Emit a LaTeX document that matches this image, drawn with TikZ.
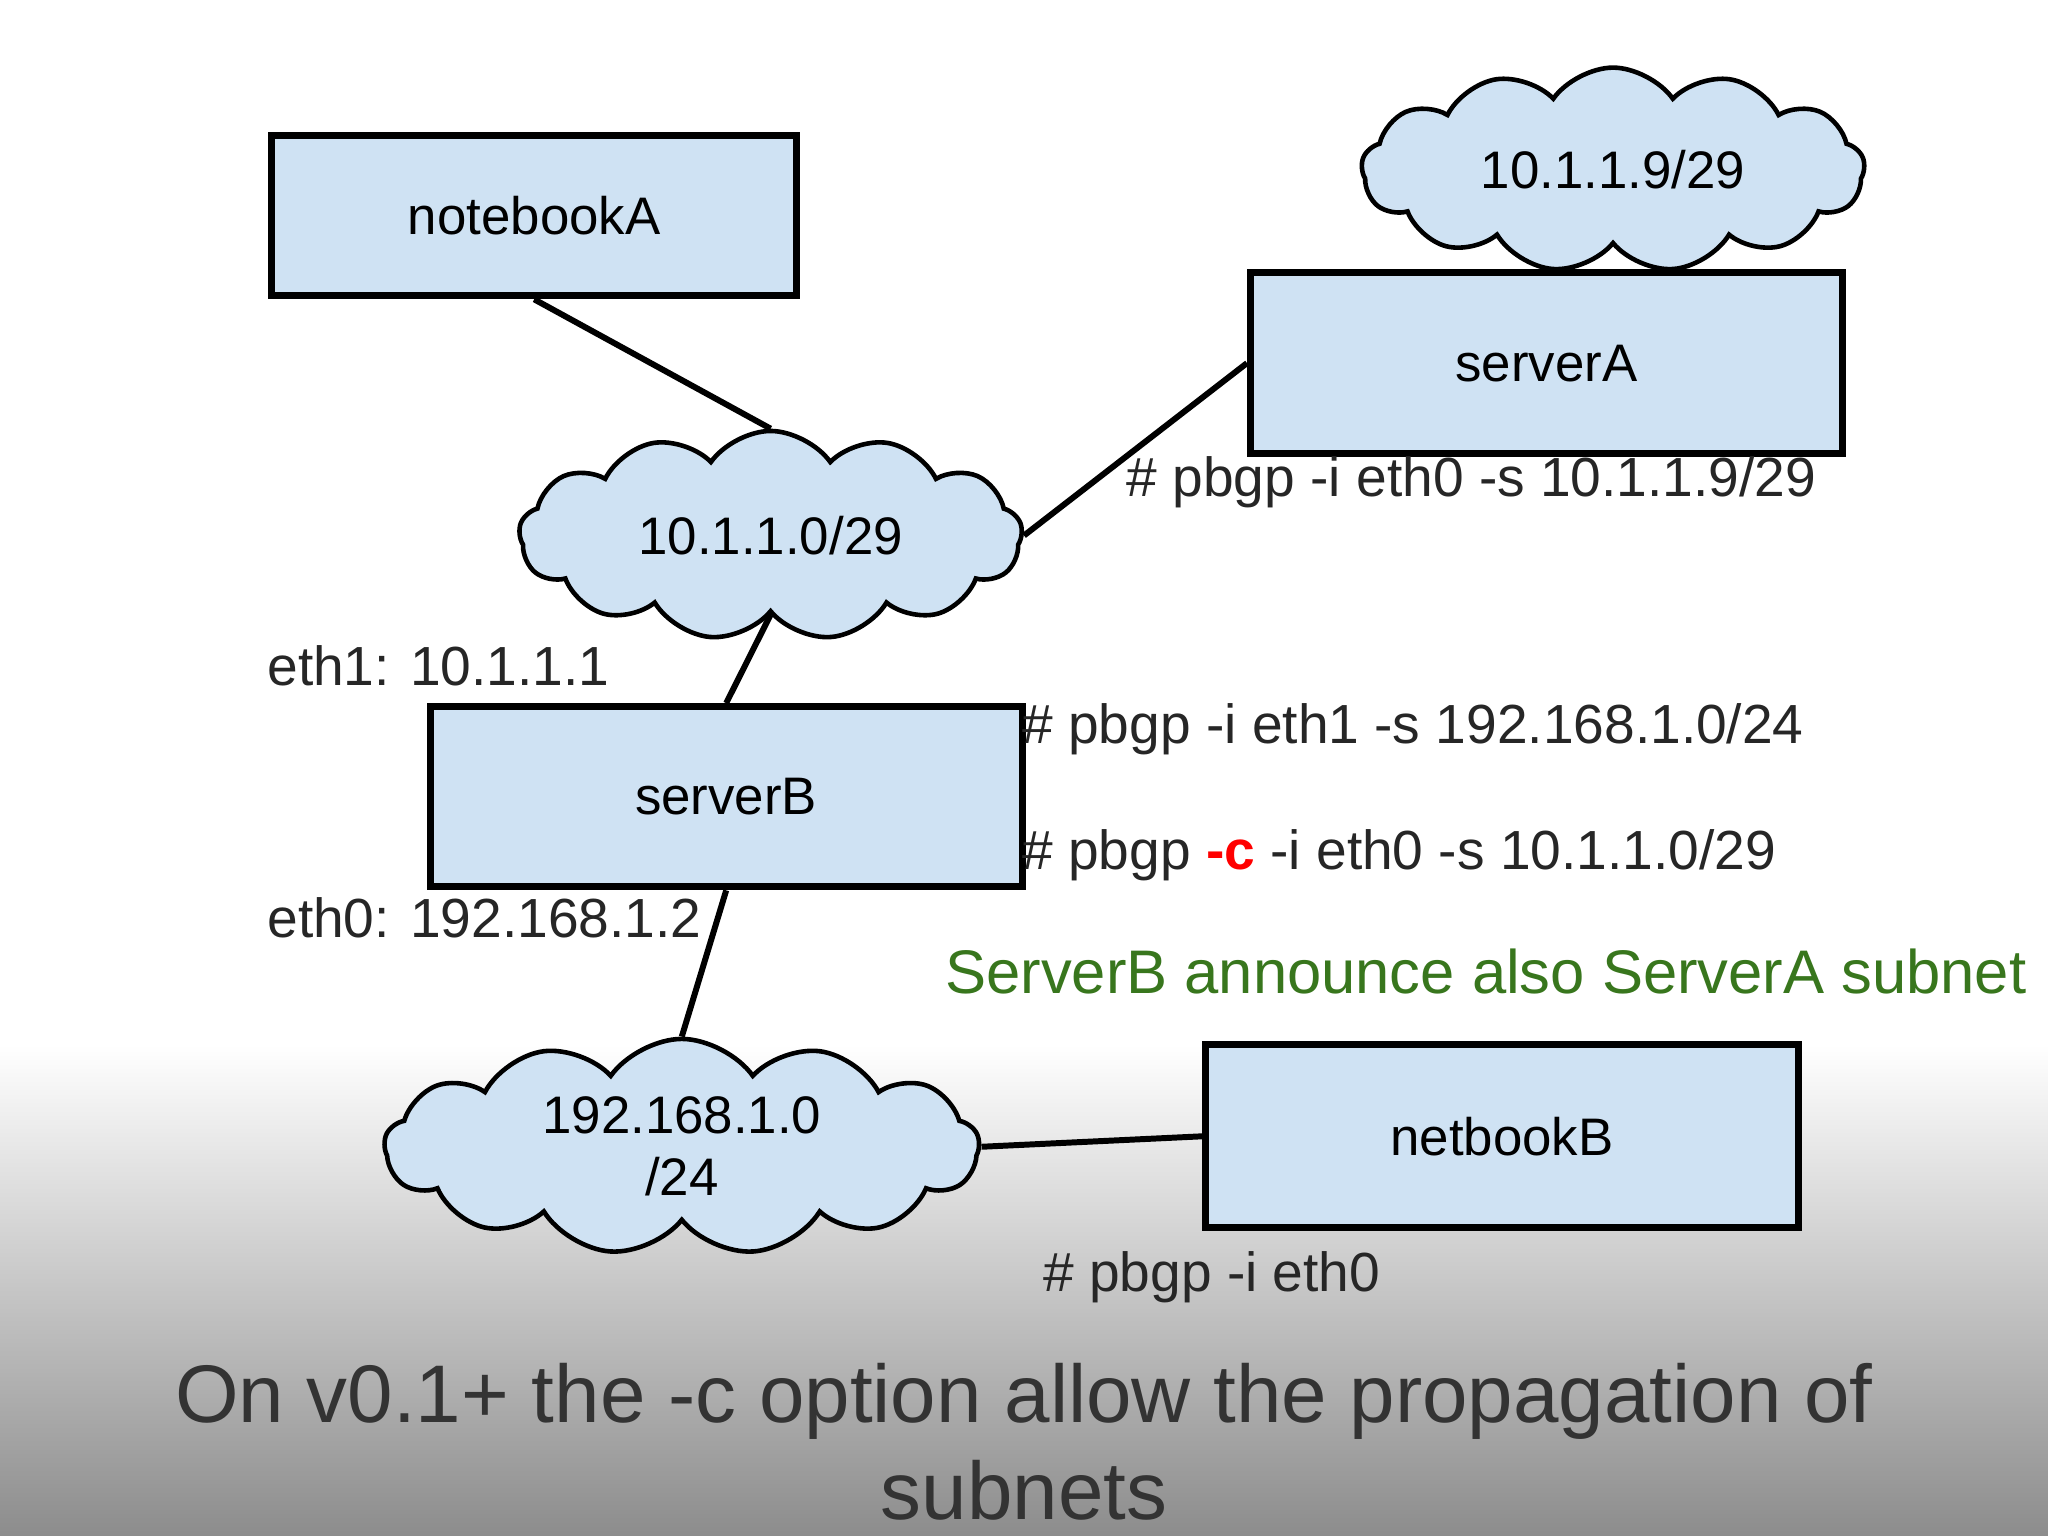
\documentclass[tikz,border=0pt]{standalone}
\usepackage{fontspec}
\setmainfont{Liberation Sans}
\usetikzlibrary{shapes.symbols}
\definecolor{boxblue}{HTML}{CFE2F3}
\definecolor{grn}{HTML}{38761D}
\begin{document}
\begin{tikzpicture}[x=0.01cm,y=-0.01cm,
  box/.style={draw=black,line width=1.5pt,fill=boxblue,font=\fontsize{11.5}{13}\selectfont},
  cld/.style={cloud,cloud puffs=13,cloud puff arc=110,aspect=2.3,draw=black,line width=1pt,fill=boxblue,inner sep=0pt,font=\fontsize{11.5}{13.5}\selectfont,align=center},
  lbl/.style={font=\fontsize{12}{14}\selectfont,text=black!85,inner sep=0pt},
  conn/.style={line width=1.3pt}]
\useasboundingbox (0,0) rectangle (1568,1176);
\shade[top color=white,bottom color=white] (0,0) rectangle (1568,800);
\shade[top color=white,bottom color=black!45] (0,800) rectangle (1568,1176);
\node[box,minimum width=4.02cm,minimum height=1.23cm] (nA) at (409,165) {notebookA};
\node[box,minimum width=4.53cm,minimum height=1.38cm] (sA) at (1184,278) {serverA};
\node[box,minimum width=4.53cm,minimum height=1.38cm] (sB) at (556,610) {serverB};
\node[box,minimum width=4.54cm,minimum height=1.40cm] (nB) at (1150,870) {netbookB};
\node[cld,minimum width=3.85cm,minimum height=1.5cm] (c1) at (1235,130) {10.1.1.9/29};
\node[cld,minimum width=3.85cm,minimum height=1.6cm] (c2) at (590,410) {10.1.1.0/29};
\node[cld,minimum width=4.55cm,minimum height=1.6cm] (c3) at (522,878) {192.168.1.0\\/24};
\draw[conn] (nA.south) -- (c2.north);
\draw[conn] (sA.west) -- (c2.east);
\draw[conn] (c2.south) -- (sB.north);
\draw[conn] (sB.south) -- (c3.north);
\draw[conn] (c3.east) -- (nB.west);
\node[lbl,anchor=west] (t1) at (862,369) {\# pbgp -i eth0 -s 10.1.1.9/29};
\node[lbl,anchor=west] (t2) at (204,510) {eth1: 10.1.1.1};
\node[lbl,anchor=west] (t3) at (782,558) {\# pbgp -i eth1 -s 192.168.1.0/24};
\node[lbl,anchor=west] (t4) at (782,655) {\# pbgp {\color{red}\bfseries -c} -i eth0 -s 10.1.1.0/29};
\node[lbl,anchor=west] (t5) at (204,703) {eth0: 192.168.1.2};
\node[lbl,anchor=west,text=grn,font=\fontsize{13.4}{15}\selectfont] (t6) at (723,744) {ServerB announce also ServerA subnet};
\node[lbl,anchor=west] (t7) at (798,978) {\# pbgp -i eth0};
\node[font=\fontsize{17.8}{21}\selectfont,text=black!80,align=center] (title) at (784,1104) {On v0.1+ the -c option allow the propagation of\\subnets};
\end{tikzpicture}
\end{document}
